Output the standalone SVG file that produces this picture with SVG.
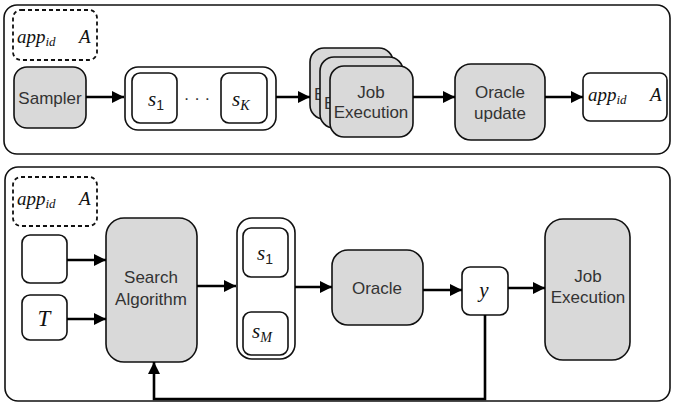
<svg xmlns="http://www.w3.org/2000/svg" width="673" height="404" viewBox="0 0 673 404">
<style>
.panel{fill:#fff;stroke:#111;stroke-width:1.6}
.dash{fill:#fff;stroke:#111;stroke-width:1.8;stroke-dasharray:4 3}
.g{fill:#d9d9d9;stroke:#111;stroke-width:1.6}
.w{fill:#fff;stroke:#111;stroke-width:1.6}
.lbl{font-family:"Liberation Sans",Arial,sans-serif;font-size:17px;fill:#333;text-anchor:middle}
.ls{font-family:"Liberation Sans",Arial,sans-serif;font-size:17px;fill:#333}
.m{font-family:"Liberation Serif","Times New Roman",serif;font-style:italic;fill:#111}
.sub{font-family:"Liberation Sans",Arial,sans-serif;font-style:normal;fill:#222}
.c{fill:none;stroke:#000;stroke-width:2.6}
</style>
<defs>
<marker id="ah" markerUnits="userSpaceOnUse" markerWidth="14" markerHeight="14" refX="12" refY="6" orient="auto">
<path d="M0,0 L12,6 L0,12 Z" fill="#000"/>
</marker>
</defs>
<g id="top-panel"><rect class="panel" x="4" y="5" width="666" height="149" rx="13"/></g>
<g id="bottom-panel"><rect class="panel" x="5" y="167" width="665" height="234" rx="13"/></g>

<g id="top-appid">
<rect class="dash" x="13" y="10" width="84" height="50" rx="8"/>
<text class="m" x="17" y="43" font-size="19">app<tspan font-size="13" dy="3">id</tspan></text>
<text class="m" x="79" y="43" font-size="19">A</text>
</g>
<g id="sampler">
<rect class="g" x="14" y="67" width="72" height="61" rx="13"/>
<text class="lbl" x="50" y="104">Sampler</text>
</g>
<g id="samples-k">
<rect class="w" x="125" y="67" width="151" height="63" rx="13"/>
<rect class="w" x="132" y="73" width="45" height="50" rx="8"/>
<text class="m" x="148" y="106" font-size="21">s<tspan class="sub" font-size="14" dy="4">1</tspan></text>
<text class="lbl" x="197" y="104" fill="#222">· · ·</text>
<rect class="w" x="221" y="73" width="46" height="50" rx="8"/>
<text class="m" x="232" y="106" font-size="21">s<tspan font-size="14" dy="4">K</tspan></text>
</g>
<g id="job-exec-stack">
<rect class="g" x="310" y="48" width="83" height="71" rx="14"/>
<text class="ls" x="314" y="100">E</text>
<rect class="g" x="320" y="57" width="83" height="71" rx="14"/>
<text class="ls" x="324" y="109">E</text>
<rect class="g" x="330" y="66" width="83" height="71" rx="14"/>
<text class="lbl" x="371" y="98">Job</text>
<text class="lbl" x="371" y="118">Execution</text>
</g>
<g id="oracle-update">
<rect class="g" x="455" y="64" width="90" height="76" rx="16"/>
<text class="lbl" x="500" y="98">Oracle</text>
<text class="lbl" x="500" y="119">update</text>
</g>
<g id="out-appid">
<rect class="w" x="583" y="73" width="84" height="48" rx="7"/>
<text class="m" x="588" y="101" font-size="19">app<tspan font-size="13" dy="3">id</tspan></text>
<text class="m" x="650" y="101" font-size="19">A</text>
</g>

<g id="bottom-appid">
<rect class="dash" x="13" y="177" width="84" height="49" rx="8"/>
<text class="m" x="17" y="205" font-size="19">app<tspan font-size="13" dy="3">id</tspan></text>
<text class="m" x="79" y="205" font-size="19">A</text>
</g>
<g id="empty-input"><rect class="w" x="22" y="235" width="45" height="48" rx="8"/></g>
<g id="t-input">
<rect class="w" x="22" y="295" width="45" height="45" rx="8"/>
<text class="m" x="44" y="326" font-size="23" text-anchor="middle">T</text>
</g>
<g id="search">
<rect class="g" x="106" y="218" width="91" height="144" rx="18"/>
<text class="lbl" x="151" y="283">Search</text>
<text class="lbl" x="151" y="305">Algorithm</text>
</g>
<g id="samples-m">
<rect class="w" x="237" y="218" width="58" height="141" rx="15"/>
<rect class="w" x="243" y="228" width="45" height="49" rx="8"/>
<text class="m" x="257" y="260" font-size="21">s<tspan class="sub" font-size="14" dy="4">1</tspan></text>
<rect class="w" x="243" y="312" width="45" height="43" rx="8"/>
<text class="m" x="252" y="338" font-size="21">s<tspan font-size="14" dy="4">M</tspan></text>
</g>
<g id="oracle">
<rect class="g" x="332" y="250" width="91" height="75" rx="16"/>
<text class="lbl" x="377" y="294">Oracle</text>
</g>
<g id="y-node">
<rect class="w" x="462" y="267" width="46" height="48" rx="8"/>
<text class="m" x="484" y="297" font-size="21" text-anchor="middle">y</text>
</g>
<g id="job-exec">
<rect class="g" x="545" y="219" width="85" height="141" rx="18"/>
<text class="lbl" x="588" y="282">Job</text>
<text class="lbl" x="588" y="303">Execution</text>
</g>

<g id="connectors">
<line class="c" x1="86" y1="97" x2="124" y2="97" marker-end="url(#ah)"/>
<line class="c" x1="276" y1="97" x2="310" y2="97" marker-end="url(#ah)"/>
<line class="c" x1="413" y1="97" x2="455" y2="97" marker-end="url(#ah)"/>
<line class="c" x1="545" y1="97" x2="583" y2="97" marker-end="url(#ah)"/>
<line class="c" x1="67" y1="260" x2="106" y2="260" marker-end="url(#ah)"/>
<line class="c" x1="67" y1="319" x2="106" y2="319" marker-end="url(#ah)"/>
<line class="c" x1="197" y1="286" x2="236" y2="286" marker-end="url(#ah)"/>
<line class="c" x1="295" y1="287" x2="332" y2="287" marker-end="url(#ah)"/>
<line class="c" x1="423" y1="290" x2="462" y2="290" marker-end="url(#ah)"/>
<line class="c" x1="508" y1="288" x2="545" y2="288" marker-end="url(#ah)"/>
<polyline class="c" points="485,315 485,399 154,399 154,362" marker-end="url(#ah)"/>
</g>
</svg>
